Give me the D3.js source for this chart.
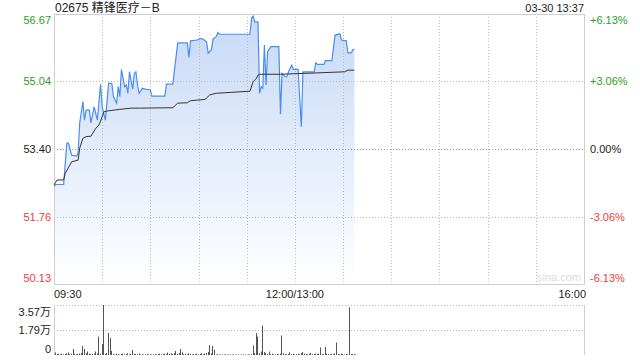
<!DOCTYPE html>
<html lang="zh">
<head>
  <meta charset="UTF-8">
  <title>02675 精锋医疗－B 分时</title>
  <style>
    *{box-sizing:border-box;margin:0;padding:0}
    body{background:#fff;width:640px;height:360px;overflow:hidden}
    svg{display:block;font-family:'Liberation Sans',Arial,'Noto Sans CJK SC',sans-serif}
    .grid{stroke:#bbb;stroke-width:1;stroke-dasharray:1,2;shape-rendering:crispEdges}
    .frame{stroke:#cfcfcf;stroke-width:1;fill:none;shape-rendering:crispEdges}
  </style>
  <script src="https://d3js.org/d3.v7.min.js"></script>
</head>
<body>
<div id="chart"></div>
<script>
/* ---------- DATA ---------- */
const title      = '02675 精锋医疗－B';
const stamp      = '03-30 13:37';
const prevClose  = 53.40;
const priceTicks = [56.67, 55.04, 53.40, 51.76, 50.13];
const pctTicks   = ['+6.13%', '+3.06%', '0.00%', '-3.06%', '-6.13%'];
const timeLabels = ['09:30', '12:00/13:00', '16:00'];
const volTicks   = ['3.57万', '1.79万', '0'];
const volMax     = 35700;

// price line, read at its turning points
const priceTimes = ['09:30','09:31','09:36','09:38','09:39','09:41','09:44','09:45','09:46','09:48','09:49','09:50','09:52','09:53','09:55','09:57','09:59','10:00','10:02','10:04','10:06','10:07','10:09','10:10','10:11','10:12','10:14','10:15','10:16','10:17','10:19','10:20','10:21','10:22','10:23','10:25','10:27','10:30','10:31','10:39','10:40','10:44','10:47','10:53','10:54','10:55','10:59','11:01','11:03','11:05','11:06','11:08','11:09','11:11','11:12','11:13','11:32','11:33','11:34','11:35','11:37','11:38','11:39','11:40','11:41','11:42','11:43','11:45','11:50','11:51','11:52','11:54','11:55','11:56','11:58','11:59','12:00','13:02','13:04','13:05','13:12','13:13','13:14','13:18','13:19','13:23','13:25','13:28','13:29','13:32','13:33','13:35','13:36','13:37'];
const prices     = [52.49,52.54,52.54,53.54,53.54,53.25,53.23,53.30,54.03,54.55,54.10,54.34,54.34,54.03,54.42,54.10,54.97,54.42,54.10,54.99,54.99,54.67,54.51,54.91,54.67,55.33,54.91,54.95,54.75,55.27,54.85,55.23,55.27,54.95,54.75,54.87,54.85,54.83,54.68,54.68,54.97,54.97,55.97,55.97,55.62,56.02,56.04,56.08,56.06,55.99,55.72,55.80,56.06,56.12,56.22,56.18,56.18,56.57,56.62,56.48,56.48,54.75,54.91,54.87,55.92,54.95,55.76,55.88,55.88,54.24,55.23,55.15,55.15,55.27,55.43,55.33,55.33,55.33,53.94,55.27,55.27,55.49,55.45,55.45,55.54,55.54,56.16,56.19,56.04,56.02,55.73,55.73,55.80,55.82];

// average price line
const avgTimes   = ['09:30','09:32','09:36','09:37','09:41','09:45','09:46','09:48','09:50','09:53','09:56','09:58','10:00','10:01','10:03','10:11','10:18','10:24','10:44','10:47','10:53','10:55','11:01','11:04','11:07','11:11','11:32','11:34','11:36','11:37','11:38','11:51','13:18','13:31','13:33','13:37'];
const avgPrices  = [52.53,52.65,52.65,52.81,53.09,53.13,53.42,53.66,53.70,53.71,53.90,53.98,54.18,54.30,54.32,54.36,54.39,54.39,54.40,54.51,54.52,54.57,54.59,54.60,54.71,54.75,54.80,55.03,55.11,55.19,55.21,55.21,55.25,55.27,55.31,55.31];

// volume per minute from 09:30 (shares)
const volumes = [
  1800,600,900,400,1000,500,700,1200,1800,600,
  900,4300,800,500,700,1000,1500,6400,4300,1200,
  2500,900,600,800,1000,2500,1100,13200,900,7900,
  35700,800,1500,15700,12100,2900,600,400,900,500,
  300,700,1000,400,600,1200,500,800,3600,900,
  700,500,1100,400,600,300,500,800,400,600,
  300,500,700,400,600,900,500,700,1000,600,
  1800,800,1200,600,1500,2900,900,1400,4300,2000,
  600,900,500,1200,700,400,800,600,1000,500,
  700,1300,600,900,1500,2200,7100,1200,6400,3600,
  400,300,500,200,300,400,300,200,500,300,
  400,200,300,300,400,200,300,500,300,200,
  400,300,600,6800,1500,15700,13200,1200,2500,21000,
  2100,1500,800,2500,600,900,500,400,700,500,
  900,13900,1200,600,500,700,1800,500,800,400,
  600,900,500,1200,2100,1000,700,500,900,1400,
  600,800,1000,700,900,5400,800,600,5700,900,
  700,500,800,600,1100,8900,700,500,900,600,
  400,800,500,34000,700,600,500,400
];

/* ---------- HELPERS ---------- */
// trading minute offset: 09:30-12:00 then 13:00-16:00 (330 min)
function tIndex(t){
  const [h,m]=t.split(':').map(Number), mm=h*60+m;
  return mm<=720 ? mm-570 : 150+(mm-780);
}

/* ---------- LAYOUT ---------- */
const W=640,H=360;
const L=54,R=584,T=14,B=284;       // main panel
const VT=305,VB=355;               // volume panel
const green='#27a127',red='#f03a3a',txt='#222';

const x  = d3.scaleLinear().domain([0,330]).range([L,R]);
const y  = d3.scaleLinear().domain([priceTicks[4],priceTicks[0]]).range([B,T]);
const yv = d3.scaleLinear().domain([0,volMax]).range([VB,VT]);

const svg=d3.select('#chart').append('svg').attr('width',W).attr('height',H);

const defs=svg.append('defs');
const grad=defs.append('linearGradient').attr('id','fillGrad')
  .attr('gradientUnits','userSpaceOnUse').attr('x1',0).attr('x2',0).attr('y1',T).attr('y2',B);
grad.append('stop').attr('offset','0%').attr('stop-color','#c6d9f7');
grad.append('stop').attr('offset','100%').attr('stop-color','#ffffff');

/* ---------- TITLE ---------- */
svg.append('text').attr('x',L+1).attr('y',8).attr('dominant-baseline','central')
   .attr('font-size',12).attr('fill',txt).text(title);
svg.append('text').attr('x',R).attr('y',8).attr('dominant-baseline','central')
   .attr('text-anchor','end').attr('font-size',11).attr('fill',txt).text(stamp);

/* ---------- AREA + LINES ---------- */
const pts=priceTimes.map((t,i)=>[tIndex(t),prices[i]]);
svg.append('path').datum(pts)
   .attr('d',d3.area().x(d=>x(d[0])).y0(B).y1(d=>y(d[1])))
   .attr('fill','url(#fillGrad)');

/* ---------- GRID ---------- */
const g=svg.append('g');
[1,2,3].forEach(k=>{
  g.append('line').attr('class','grid').attr('x1',L).attr('x2',R)
   .attr('y1',Math.round(y(priceTicks[k]))+0.5).attr('y2',Math.round(y(priceTicks[k]))+0.5)
   .style('stroke',k===2?'#999':'#bbb');
});
d3.range(30,330,30).forEach(m=>{
  g.append('line').attr('class','grid').attr('y1',T).attr('y2',B)
   .attr('x1',Math.round(x(m))+0.5).attr('x2',Math.round(x(m))+0.5);
});
g.append('rect').attr('class','frame').attr('x',L+0.5).attr('y',T+0.5)
 .attr('width',R-L).attr('height',B-T);

svg.append('path').datum(pts)
   .attr('d',d3.line().x(d=>x(d[0])).y(d=>y(d[1])))
   .attr('fill','none').attr('stroke','#4a8ef2').attr('stroke-width',1.2);

const apts=avgTimes.map((t,i)=>[tIndex(t),avgPrices[i]]);
svg.append('path').datum(apts)
   .attr('d',d3.line().x(d=>x(d[0])).y(d=>y(d[1])))
   .attr('fill','none').attr('stroke','#333').attr('stroke-width',1);

/* ---------- WATERMARK ---------- */
svg.append('text').attr('x',R-3).attr('y',B-7).attr('dominant-baseline','central')
   .attr('text-anchor','end').attr('font-size',11).attr('fill','#ddd').text('sina.com');

/* ---------- AXIS LABELS ---------- */
const colorOf=v=>v>prevClose?green:(v<prevClose?red:txt);
const labY=(k)=>k===0?y(priceTicks[0])+6:(k===4?y(priceTicks[4])-6:y(priceTicks[k]));
priceTicks.forEach((v,k)=>{
  svg.append('text').attr('x',L-3).attr('y',labY(k)).attr('dominant-baseline','central')
     .attr('text-anchor','end').attr('font-size',11).attr('fill',colorOf(v)).text(v.toFixed(2));
  svg.append('text').attr('x',R+6).attr('y',labY(k)).attr('dominant-baseline','central')
     .attr('font-size',11).attr('fill',colorOf(v)).text(pctTicks[k]);
});

const tx=[L,x(150),R+2], ta=['start','middle','end'];
timeLabels.forEach((s,i)=>{
  svg.append('text').attr('x',tx[i]).attr('y',294).attr('dominant-baseline','central')
     .attr('text-anchor',ta[i]).attr('font-size',11).attr('fill',txt).text(s);
});

/* ---------- VOLUME ---------- */
const vg=svg.append('g');
[VT,(VT+VB)/2].forEach(v=>{
  vg.append('line').attr('class','grid').attr('x1',L).attr('x2',R)
    .attr('y1',Math.round(v)+0.5).attr('y2',Math.round(v)+0.5);
});
[L,R].forEach(v=>{
  vg.append('line').attr('class','frame').attr('x1',v+0.5).attr('x2',v+0.5).attr('y1',VT).attr('y2',VB);
});
vg.selectAll('rect.vol').data(volumes).enter().append('rect').attr('class','vol')
  .attr('x',(d,i)=>Math.round(x(i))+1).attr('width',1)
  .attr('y',d=>yv(d)).attr('height',d=>VB-yv(d))
  .attr('fill','#555');

const vy=[VT+7,(VT+VB)/2,VB-6];
volTicks.forEach((s,i)=>{
  svg.append('text').attr('x',L-3).attr('y',vy[i]).attr('dominant-baseline','central')
     .attr('text-anchor','end').attr('font-size',11).attr('fill',txt).text(s);
});
</script>
</body>
</html>
